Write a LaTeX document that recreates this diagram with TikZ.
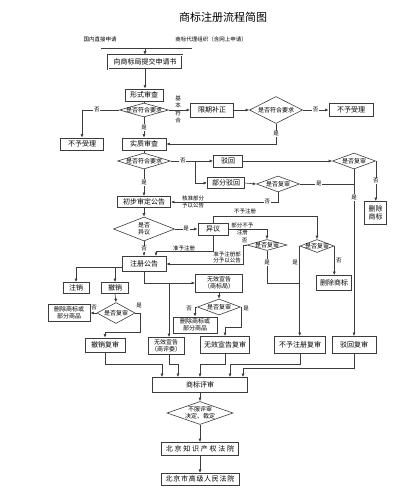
\documentclass[tikz,border=0pt]{standalone}
\usepackage{fontspec}
\setmainfont{Noto Sans CJK SC}
\usetikzlibrary{positioning,arrows.meta,shapes.geometric}
\definecolor{linegray}{RGB}{60,60,60}

\begin{document}
\begin{tikzpicture}[x=1pt,y=-1pt,
    >={Latex[length=3.5pt,width=3pt]},
    flow/.style={draw=linegray,line width=0.6pt},
    pbox/.style={draw=linegray,line width=0.8pt,fill=white,inner sep=1pt,
                 align=center,font=\fontsize{7}{8.5}\selectfont},
    sbox/.style={pbox,font=\fontsize{6}{7}\selectfont},
    qdiam/.style={diamond,draw=linegray,line width=0.6pt,fill=white,inner sep=0pt},
    every label/.style={font=\fontsize{6}{7}\selectfont,align=center,inner sep=0pt},
    tag/.style={font=\fontsize{5.5}{6}\selectfont,fill=white,inner sep=0.8pt},
    note/.style={font=\fontsize{5.5}{6.5}\selectfont,align=center,inner sep=0pt}]

    \useasboundingbox[fill=white] (0,0) rectangle (407,495);

    \node[font=\fontsize{11}{12}\selectfont] (title) at (223,17) {商标注册流程简图};
    \node[note] (src1) at (100,39) {国内直接申请};
    \node[note] (src2) at (211,39) {商标代理组织（含网上申请）};
    \coordinate (jl) at (101,48);
    \coordinate (jr) at (192,48);
    \coordinate (jm) at (145,48);

    \node[pbox,double,line width=0.5pt,double distance=0.6pt,
          minimum width=74pt,minimum height=14pt] (submit) at (145,62) {向商标局提交申请书};
    \node[pbox,minimum width=38pt,minimum height=12pt] (formal) at (144,95) {形式审查};
    \node[qdiam,minimum width=49pt,minimum height=14pt,label=center:是否符合要求] (chk1) at (144,110) {};
    \node[pbox,minimum width=43pt,minimum height=12pt] (refuse1) at (82,144) {不予受理};
    \node[pbox,minimum width=43pt,minimum height=14pt] (amend) at (212,110) {限期补正};
    \node[note,font=\fontsize{5.5}{7.5}\selectfont] (basic) at (178,109.5) {基\\本\\符\\合};
    \node[qdiam,minimum width=53pt,minimum height=27pt,label=center:是否符合要求] (chk2) at (276,110) {};
    \node[pbox,minimum width=44pt,minimum height=13pt] (refuse2) at (351,110) {不予受理};
    \node[pbox,minimum width=44pt,minimum height=12pt] (subst) at (144,144) {实质审查};
    \node[qdiam,minimum width=53pt,minimum height=16pt,label=center:是否符合要求] (chk3) at (144,161) {};
    \coordinate (split) at (195,161);
    \node[pbox,minimum width=29pt,minimum height=12pt] (reject) at (228,161) {驳回};
    \node[pbox,minimum width=37pt,minimum height=11pt] (partrej) at (226,183) {部分驳回};
    \node[qdiam,minimum width=43pt,minimum height=16pt,label=center:是否复审] (rev1) at (354,161) {};
    \node[pbox,minimum width=22pt,minimum height=23pt] (del1) at (375.5,213) {删除\\商标};
    \node[qdiam,minimum width=43pt,minimum height=16pt,label=center:是否复审] (rev2) at (278,184) {};
    \node[pbox,minimum width=53pt,minimum height=11pt] (prelim) at (144,202) {初步审定公告};
    \node[note,font=\fontsize{5.5}{7}\selectfont] (parttxt) at (193,201.5) {核准部分\\予以公告};
    \node[qdiam,minimum width=61pt,minimum height=24pt,label={center:{是否\\异议}}] (oppq) at (144,229) {};
    \node[pbox,minimum width=30pt,minimum height=12pt] (oppo) at (213,229) {异议};
    \node[pbox,minimum width=44pt,minimum height=15pt] (reg) at (144,264) {注册公告};
    \node[qdiam,minimum width=40pt,minimum height=11pt,label=center:是否复审] (rev3) at (267,245) {};
    \node[qdiam,minimum width=34pt,minimum height=13pt,label=center:是否复审] (rev4) at (317,246) {};
    \node[pbox,minimum width=35pt,minimum height=15pt] (del2) at (334,283) {删除商标};
    \node[pbox,minimum width=51pt,minimum height=17pt] (refrev) at (300,345) {不予注册复审};
    \node[pbox,minimum width=44pt,minimum height=17pt] (rejrev) at (354,345) {驳回复审};

    \node[pbox,minimum width=26pt,minimum height=11pt] (cancel) at (76,288) {注销};
    \node[pbox,minimum width=27pt,minimum height=11pt] (revoke) at (115,288) {撤销};
    \node[qdiam,minimum width=38pt,minimum height=21pt,label=center:是否复审] (rev5) at (116,313) {};
    \node[sbox,minimum width=42pt,minimum height=17pt] (del3) at (69,313) {删除商标或\\部分商品};
    \node[pbox,minimum width=40pt,minimum height=14pt] (revrev) at (105,345) {撤销复审};
    \node[sbox,minimum width=47pt,minimum height=18pt] (invtm) at (219,283) {无效宣告\\（商标局）};
    \node[qdiam,minimum width=43pt,minimum height=16pt,label=center:是否复审] (rev6) at (219,307) {};
    \node[sbox,minimum width=44pt,minimum height=16pt] (del4) at (195,325) {删除商标或\\部分商品};
    \node[pbox,minimum width=49pt,minimum height=17pt] (invrev) at (225,345) {无效宣告复审};
    \node[sbox,minimum width=36pt,minimum height=17pt] (invtr) at (166,346) {无效宣告\\（商评委）};

    \node[pbox,minimum width=95pt,minimum height=15pt] (board) at (200,385) {商标评审};
    \node[qdiam,minimum width=66pt,minimum height=23pt,
          label={center:{不服评审\\决定、裁定}}] (appeal) at (200,413) {};
    \node[pbox,font=\fontsize{7}{8}\selectfont\addfontfeatures{LetterSpace=25},
          minimum width=77pt,minimum height=13pt] (court1) at (200,449) {北京知识产权法院};
    \node[pbox,font=\fontsize{7}{8}\selectfont\addfontfeatures{LetterSpace=10},
          minimum width=78pt,minimum height=12pt,below=17pt of court1] (court2) {北京市高级人民法院};

    \draw[flow] (jl) -- (jr);
    \draw[flow,->] (jm) -- (submit.north);
    \draw[flow,->] (submit.south) -- (submit.south |- formal.north);
    \draw[flow] (formal.south) -- (chk1.north);
    \draw[flow,->] (chk1.west) -| node[tag,pos=0.3] (n1) {否} (refuse1.north);
    \draw[flow,->] (chk1.east) -- (amend.west);
    \draw[flow,->] (amend.east) -- (chk2.west);
    \draw[flow,->] (chk2.east) -- node[tag] (n2) {否} (refuse2.west);
    \draw[flow,->] (chk2.south) |- node[tag,pos=0.25] (y2) {是} (subst.east);
    \draw[flow,->] (chk1.south) -- node[tag] (y1) {是} (subst.north);
    \draw[flow] (subst.south) -- (chk3.north);
    \draw[flow] (chk3.east) -- node[tag] (n3) {否} (split);
    \draw[flow,->] (split) -- (reject.west);
    \draw[flow,->] (split) |- (partrej.west);
    \draw[flow,->] (reject.east) -- (rev1.west);
    \draw[flow,->] (rev1.east) -- node[tag] (n4) {否} (rev1.east |- del1.north);
    \draw[flow,->] (rev1.south) -- node[tag,pos=0.17] (y4) {是} (rev1.south |- rejrev.north);
    \draw[flow,->] (partrej.east) -- (rev2.west);
    \draw[flow] (rev2.east) -- node[tag,pos=0.35] (y5) {是} (rev2.east -| rev1.south);
    \draw[flow,->] (rev2.south) |- node[tag,pos=0.55] (n5) {否} (prelim.east);
    \draw[flow,->] (chk3.south) -- node[tag] (y3) {是} (prelim.north);
    \draw[flow,->] (prelim.south) -- (oppq.north);
    \draw[flow,->] (oppq.east) -- node[tag] (y6) {是} (oppo.west);
    \draw[flow,->] (oppq.south) -- node[tag] (n6) {否} (reg.north);

    \coordinate (okreg) at (156,251);
    \draw[flow,->] (oppo.south) |- (okreg) -- (okreg |- reg.north);
    \node[note] (oktxt) at (184,248) {准予注册};
    \coordinate (noreg) at (317,216);
    \draw[flow,->] (oppo.north) |- (noreg) -- (rev4.north);
    \node[note] (notxt) at (245,211) {不予注册};
    \draw[flow,->] (oppo.east) -| node[note,pos=0.18,above=0.8pt] (pt1) {部分不予}
        node[note,pos=0.18,below=0.8pt] (pt2) {注册} (rev3.north);
    \coordinate (pb) at (243,264);
    \draw[flow,->] (rev3.west) -| (pb) -- (reg.east);
    \node[note] (n7) at (244.5,241) {否};
    \node[note] (pubtxt) at (227,257.5) {准予注册部\\分予以公告};
    \coordinate (jn) at (300,283);
    \draw[flow] (rev3.south) |- node[tag,pos=0.18] (y7) {是} (jn);
    \draw[flow,->] (rev4.west) -- node[note,left=1.5pt,pos=0.18] (y8) {是} (rev4.west |- refrev.north);
    \draw[flow,->] (rev4.east) -- node[note,right=1.5pt] (n8) {否} (rev4.east |- del2.north);

    \coordinate (regw) at ([yshift=-3pt]reg.west);
    \draw[flow,->] (regw) -| (cancel.north);
    \draw[flow,->] (revoke.north |- regw) -- (revoke.north);
    \draw[flow,->] (reg.south) |- (invtm.west);
    \coordinate (tr) at (169,283);
    \draw[flow,->] (tr) -- (tr |- invtr.north);
    \draw[flow,->] (invtm.south) -- (rev6.north);
    \draw[flow,->] (rev6.west) -| (del4.north);
    \node[note] (n9) at (189,309) {否};
    \draw[flow,->] (rev6.east) -- ++(0,20) -| (invrev.north);
    \node[note] (y9) at (246,309) {是};
    \draw[flow,->] (revoke.south) -- (rev5.north);
    \draw[flow,->] (rev5.west) -- (del3.east);
    \node[note] (n10) at (94,308) {否};
    \coordinate (rr) at (140,332);
    \draw[flow,->] (rev5.east) -| (rr) -| (revrev.north);
    \node[note] (y10) at (139,306) {是};

    \coordinate (m1) at (162,364);
    \coordinate (m2) at (178,364);
    \coordinate (m3) at (200,364);
    \coordinate (m4) at (230,364);
    \coordinate (m5) at (243,368);
    \draw[flow,->] (revrev.south) |- (m1) -- (m1 |- board.north);
    \draw[flow,->] (tr |- invtr.south) |- (m2) -- (m2 |- board.north);
    \draw[flow,->] (invrev.south) |- (m3) -- (m3 |- board.north);
    \draw[flow,->] (refrev.south) |- (m4) -- (m4 |- board.north);
    \draw[flow,->] (rejrev.south) |- (m5) -- (m5 |- board.north);
    \draw[flow,->] (board.south) -- (appeal.north);
    \draw[flow,->] (appeal.south) -- (court1.north);
    \draw[flow,->] (court1.south) -- (court2.north);
\end{tikzpicture}
\end{document}
